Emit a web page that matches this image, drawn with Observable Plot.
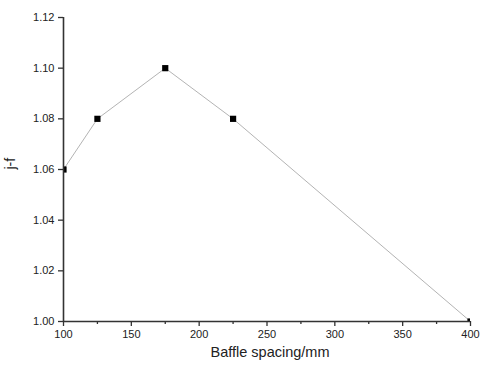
<!DOCTYPE html>
<html><head><meta charset="utf-8">
<script src="https://cdn.jsdelivr.net/npm/d3@7"></script>
<script src="https://cdn.jsdelivr.net/npm/@observablehq/plot@0.6"></script>
<style>body{margin:0;background:#fff}svg{display:block}</style>
</head><body><div id="chart"></div>
<script>
const spacing = [100, 125, 175, 225, 400];
const jf = [1.06, 1.08, 1.10, 1.08, 1.00];
const xMajor = [100, 150, 200, 250, 300, 350, 400];
const xMinor = [125, 175, 225, 275, 325, 375];
const yMajor = [1.00, 1.02, 1.04, 1.06, 1.08, 1.10, 1.12];
const data = spacing.map((x, i) => ({x, y: jf[i]}));
const axisColor = "#333";
const chart = Plot.plot({
  width: 481, height: 367,
  marginLeft: 63, marginRight: 11, marginTop: 17, marginBottom: 46,
  style: {fontFamily: "Liberation Sans, Arial, sans-serif", fontSize: "11px", color: "#222", background: "#fff"},
  x: {domain: [100, 400]},
  y: {domain: [1.00, 1.12]},
  marks: [
    Plot.line(data, {x: "x", y: "y", stroke: "#aaaaaa", strokeWidth: 0.9}),
    Plot.dot(data, {x: "x", y: "y", symbol: "square", r: 3.5, fill: "#000", stroke: "none", clip: "frame"}),
    Plot.axisX({ticks: xMajor, tickSize: 5, tickPadding: 4, tickFormat: d => String(d), stroke: axisColor, strokeWidth: 1.3, label: null, fontSize: 11}),
    Plot.axisX({ticks: xMinor, tickSize: 3, tickFormat: null, text: null, stroke: axisColor, strokeWidth: 1.3, label: null}),
    Plot.axisY({ticks: yMajor, tickSize: 5, tickPadding: 4, tickFormat: d => d.toFixed(2), stroke: axisColor, strokeWidth: 1.3, label: null, fontSize: 11}),
    Plot.ruleY([1.00], {stroke: axisColor, strokeWidth: 1.6}),
    Plot.ruleX([100], {stroke: axisColor, strokeWidth: 1.6}),
    Plot.text(["Baffle spacing/mm"], {frameAnchor: "bottom", dy: 35, dx: 3, fontSize: 14.5, fill: "#222"}),
    Plot.text(["j-f"], {frameAnchor: "left", dx: -53, rotate: -90, fontSize: 14, fill: "#222"})
  ]
});
document.getElementById("chart").append(chart);
</script></body></html>
